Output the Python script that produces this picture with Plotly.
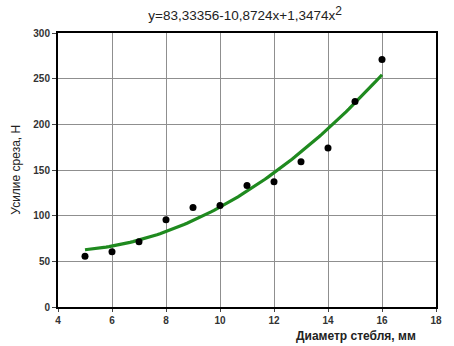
import numpy as np
import plotly.graph_objects as go

diameter = [5, 6, 7, 8, 9, 10, 11, 12, 13, 14, 15, 16]
force = [55.5, 60.5, 71.5, 95.5, 109, 111, 133, 137, 159, 174, 225, 271]
coef = [83.33356, -10.8724, 1.3474]  # from the chart title
x_ticks = [4, 6, 8, 10, 12, 14, 16, 18]
y_ticks = [0, 50, 100, 150, 200, 250, 300]

xs = np.linspace(min(diameter), max(diameter), 100)
ys = coef[0] + coef[1] * xs + coef[2] * xs ** 2

fig = go.Figure()
fig.add_trace(go.Scatter(x=xs, y=ys, mode="lines",
                         line=dict(color="#1f8a1f", width=3.2), showlegend=False))
fig.add_trace(go.Scatter(x=diameter, y=force, mode="markers",
                         marker=dict(color="black", size=7), showlegend=False))

font_fam = "Liberation Sans, Arial, sans-serif"
fig.update_layout(
    width=454, height=346,
    margin=dict(l=58, r=13, t=33, b=39),
    paper_bgcolor="white", plot_bgcolor="white",
    font=dict(family=font_fam, color="#222"),
    title=dict(text="y=83,33356-10,8724x+1,3474x<sup><span style='font-size:12px'>2</span></sup>",
               x=0.54, xanchor="center", y=0.955, yanchor="middle",
               font=dict(size=13.5, color="#222", family=font_fam)),
    xaxis=dict(range=[4, 18], tickvals=x_ticks, showgrid=True,
               gridcolor="#8f8f8f", gridwidth=1, zeroline=False,
               showline=True, linecolor="black", linewidth=2, mirror=True,
               ticks="outside", ticklen=3, tickcolor="#444",
               tickfont=dict(size=10, color="#333", family=font_fam, weight="bold")),
    yaxis=dict(range=[0, 300], tickvals=y_ticks, showgrid=True,
               gridcolor="#8f8f8f", gridwidth=1, zeroline=False,
               showline=True, linecolor="black", linewidth=2, mirror=True,
               ticks="outside", ticklen=4, tickcolor="#444",
               tickfont=dict(size=10, color="#333", family=font_fam, weight="bold")),
)
fig.add_annotation(text="Усилие среза, Н", xref="paper", yref="paper",
                   x=-0.112, y=0.5, xanchor="center", yanchor="middle",
                   textangle=-90, showarrow=False,
                   font=dict(size=12, color="#222", family=font_fam))
fig.add_annotation(text="Диаметр стебля, мм", xref="paper", yref="paper",
                   x=0.953, y=-0.106, xanchor="right", yanchor="middle", showarrow=False,
                   font=dict(size=12, color="#222", family=font_fam, weight="bold"))

fig.write_html("out.html", config={"displayModeBar": False},
               post_script="document.body.style.margin='0';document.body.style.overflow='hidden';")
